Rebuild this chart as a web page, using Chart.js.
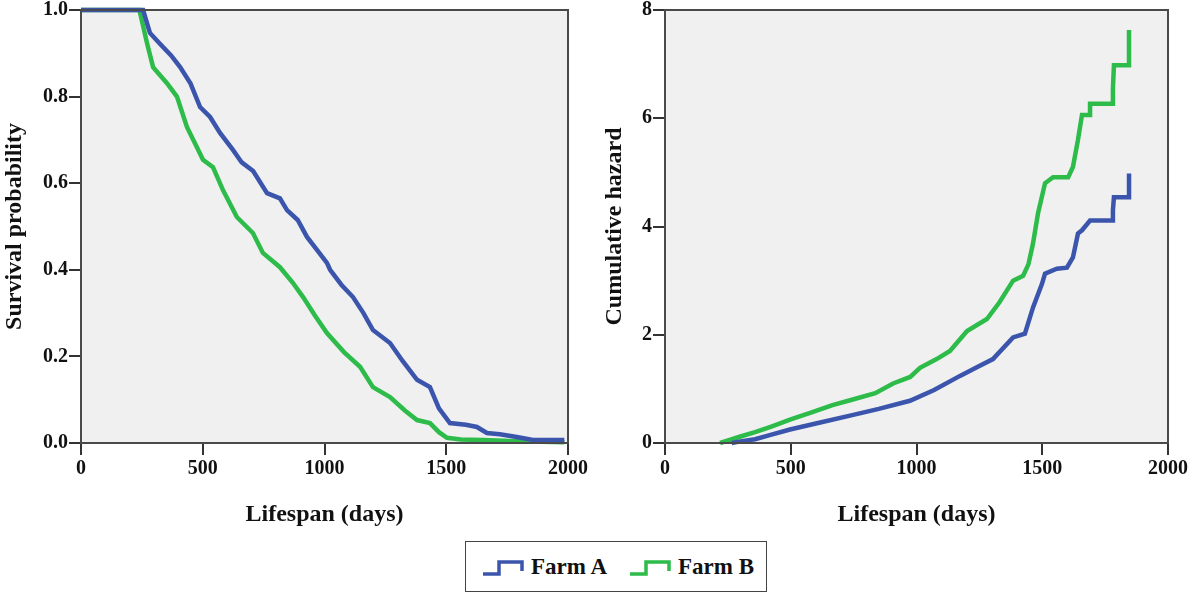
<!DOCTYPE html>
<html>
<head>
<meta charset="utf-8">
<script src="https://cdn.jsdelivr.net/npm/chart.js@4"></script>
<style>
  body { margin: 0; background: #fff; width: 1189px; height: 596px; position: relative; overflow: hidden; }
  #survival { position: absolute; left: 0; top: 0; }
  #hazard { position: absolute; left: 590px; top: 0; }
  #legend {
    position: absolute; left: 465px; top: 541px; width: 302px; height: 51px;
    border: 1.5px solid #444; box-sizing: border-box;
    font-family: "Liberation Serif", serif; font-weight: bold; font-size: 23px; color: #111;
    display: flex; align-items: center;
  }
  #legend .item { display: flex; align-items: center; }
  #legend svg { margin-right: 7px; }
</style>
</head>
<body>
<canvas id="survival" width="590" height="540"></canvas>
<canvas id="hazard" width="599" height="540"></canvas>
<div id="legend">
  <div class="item" style="margin-left:16px">
    <svg width="42" height="22"><polyline points="1,18 17,18 17,6 40,6 40,15" fill="none" stroke="#3b55ad" stroke-width="3.5"/></svg>
    <span>Farm A</span>
  </div>
  <div class="item" style="margin-left:22px">
    <svg width="42" height="22"><polyline points="1,18 17,18 17,6 40,6 40,15" fill="none" stroke="#2dbb4a" stroke-width="3.5"/></svg>
    <span>Farm B</span>
  </div>
</div>
<script>
const xTicks = [0, 500, 1000, 1500, 2000];
const survTicks = [0, 0.2, 0.4, 0.6, 0.8, 1.0];
const hazardTicks = [0, 2, 4, 6, 8];

// Kaplan-Meier survival
const farmASurvDays = [0, 255, 283, 324, 370, 407, 450, 489, 530, 571, 624, 660, 707, 764, 817, 846, 890, 928, 969, 1010, 1023, 1070, 1117, 1160, 1199, 1269, 1320, 1380, 1433, 1470, 1515, 1580, 1626, 1667, 1720, 1790, 1856, 1985];
const farmASurv = [1.0, 1.0, 0.947, 0.922, 0.895, 0.868, 0.83, 0.776, 0.753, 0.716, 0.677, 0.648, 0.628, 0.577, 0.565, 0.538, 0.515, 0.476, 0.446, 0.416, 0.40, 0.365, 0.337, 0.30, 0.261, 0.231, 0.19, 0.146, 0.129, 0.08, 0.046, 0.042, 0.037, 0.023, 0.02, 0.014, 0.007, 0.007];

const farmBSurvDays = [0, 240, 271, 296, 353, 394, 435, 470, 501, 542, 583, 640, 706, 747, 817, 870, 912, 960, 1010, 1080, 1146, 1199, 1269, 1330, 1380, 1433, 1470, 1503, 1560, 1651, 1790, 1985];
const farmBSurv = [1.0, 1.0, 0.924, 0.868, 0.831, 0.80, 0.73, 0.69, 0.654, 0.637, 0.584, 0.522, 0.485, 0.439, 0.406, 0.37, 0.337, 0.295, 0.254, 0.21, 0.176, 0.129, 0.106, 0.075, 0.053, 0.046, 0.025, 0.012, 0.008, 0.007, 0.004, 0.002];

// Cumulative hazard
const farmAHazDays = [265, 300, 358, 420, 497, 600, 740, 850, 974, 1070, 1173, 1240, 1304, 1384, 1431, 1463, 1499, 1511, 1558, 1598, 1622, 1642, 1658, 1690, 1781, 1781, 1785, 1845, 1845];
const farmAHaz = [0, 0.03, 0.07, 0.15, 0.25, 0.36, 0.51, 0.63, 0.78, 0.98, 1.24, 1.4, 1.55, 1.95, 2.02, 2.5, 2.94, 3.13, 3.22, 3.24, 3.43, 3.87, 3.93, 4.11, 4.11, 4.3, 4.54, 4.54, 4.98];

const farmBHazDays = [219, 260, 300, 358, 420, 497, 580, 666, 736, 836, 907, 975, 1014, 1080, 1133, 1201, 1280, 1330, 1384, 1424, 1445, 1463, 1483, 1511, 1543, 1603, 1622, 1642, 1658, 1690, 1690, 1781, 1781, 1785, 1845, 1845];
const farmBHaz = [0, 0.06, 0.12, 0.2, 0.3, 0.43, 0.56, 0.7, 0.79, 0.92, 1.1, 1.22, 1.39, 1.55, 1.7, 2.07, 2.29, 2.6, 3.0, 3.09, 3.3, 3.68, 4.24, 4.8, 4.91, 4.91, 5.1, 5.6, 6.06, 6.06, 6.27, 6.27, 6.55, 6.98, 6.98, 7.63];

const BLUE = '#3b55ad';
const GREEN = '#2dbb4a';
const FONT = '"Liberation Serif", "Times New Roman", serif';

function pts(xs, ys) {
  return xs.map((x, i) => ({ x: x, y: ys[i] }));
}

// grey plot background and frame
const plotFrame = {
  id: 'plotFrame',
  beforeDatasetsDraw(chart) {
    const { ctx, chartArea: a } = chart;
    ctx.save();
    ctx.fillStyle = '#f0f0f0';
    ctx.fillRect(a.left, a.top, a.right - a.left, a.bottom - a.top);
    ctx.restore();
  },
  afterDatasetsDraw(chart) {
    const { ctx, chartArea: a } = chart;
    ctx.save();
    ctx.strokeStyle = '#4a4a4a';
    ctx.lineWidth = 2;
    ctx.strokeRect(a.left, a.top, a.right - a.left, a.bottom - a.top);
    ctx.restore();
  }
};

function makeChart(id, series, yTicks, yTitle, yWidth, titlePad, rightPad, decimals) {
  const ctx = document.getElementById(id).getContext('2d');
  return new Chart(ctx, {
    type: 'line',
    data: {
      datasets: series.map(s => ({
        data: s.data,
        borderColor: s.color,
        borderWidth: 4.5,
        pointRadius: 0,
        tension: 0,
        fill: false,
        clip: 6
      }))
    },
    options: {
      responsive: false,
      animation: false,
      layout: { padding: { left: 0, top: 10, right: rightPad, bottom: 0 } },
      plugins: { legend: { display: false }, tooltip: { enabled: false } },
      scales: {
        x: {
          type: 'linear',
          min: 0, max: 2000,
          afterBuildTicks: scale => { scale.ticks = xTicks.map(v => ({ value: v })); },
          afterFit: scale => { scale.height = 97; scale.paddingLeft = 0; scale.paddingRight = 0; },
          grid: { drawOnChartArea: false, drawTicks: true, tickLength: 12, color: '#333', lineWidth: 2 },
          border: { display: false },
          ticks: { color: '#111', padding: 2, maxRotation: 0, font: { family: FONT, size: 20, weight: 'bold' },
                   callback: v => String(v) },
          title: { display: true, text: 'Lifespan (days)', color: '#111', padding: { top: 0, bottom: 11 }, font: { family: FONT, size: 24, weight: 'bold' } }
        },
        y: {
          type: 'linear',
          min: yTicks[0], max: yTicks[yTicks.length - 1],
          afterBuildTicks: scale => { scale.ticks = yTicks.map(v => ({ value: v })); },
          afterFit: scale => { scale.width = yWidth; scale.paddingTop = 0; scale.paddingBottom = 0; },
          grid: { drawOnChartArea: false, drawTicks: true, tickLength: 12, color: '#333', lineWidth: 2 },
          border: { display: false },
          ticks: { color: '#111', padding: 1, font: { family: FONT, size: 20, weight: 'bold' },
                   callback: v => v.toFixed(decimals) },
          title: { display: true, text: yTitle, color: '#111', padding: { top: titlePad, bottom: 0 }, font: { family: FONT, size: 24, weight: 'bold' } }
        }
      }
    },
    plugins: [plotFrame]
  });
}

makeChart('survival', [
  { data: pts(farmASurvDays, farmASurv), color: BLUE },
  { data: pts(farmBSurvDays, farmBSurv), color: GREEN }
], survTicks, 'Survival probability', 81, 0, 22, 1);

makeChart('hazard', [
  { data: pts(farmAHazDays, farmAHaz), color: BLUE },
  { data: pts(farmBHazDays, farmBHaz), color: GREEN }
], hazardTicks, 'Cumulative hazard', 75, 10, 21, 0);
</script>
</body>
</html>
